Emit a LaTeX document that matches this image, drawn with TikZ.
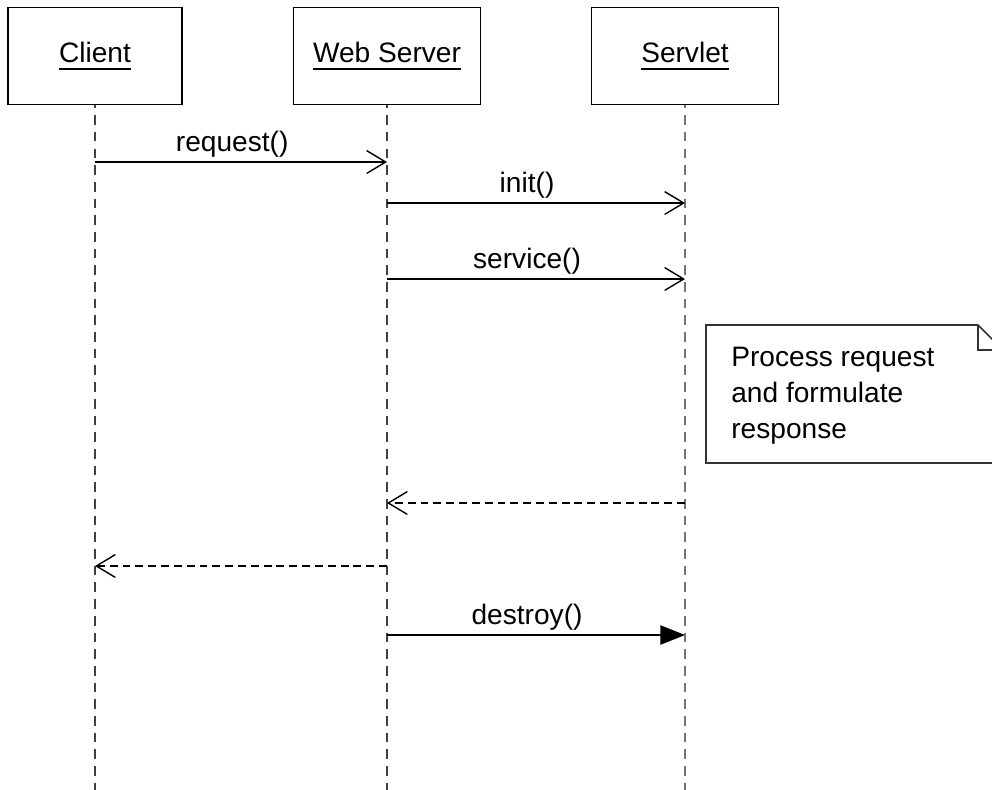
\documentclass[tikz,border=0pt]{standalone}
\usepackage{fontspec}
\setmainfont{Liberation Sans}
\usetikzlibrary{arrows.meta,positioning}
\newcommand{\objname}[1]{\setbox0=\hbox{#1}\leavevmode\rlap{\copy0}\raisebox{-4.5pt}{\rule{\wd0}{1pt}}}

\begin{document}
\begin{tikzpicture}[x=0.02cm, y=-0.02cm,
    font=\fontsize{16}{20.4}\selectfont,
    object/.style={rectangle, draw, line width=1.1pt, minimum height=1.94cm,
                   minimum width=3.74cm, inner sep=0pt},
    lifeline/.style={line width=1pt, black!75, dash pattern=on 5.5pt off 4pt, dash phase=4pt},
    call/.style={-{Straight Barb[length=10.8pt, width=13pt]}, line width=0.8pt},
    reply/.style={call, dash pattern=on 4.5pt off 2.8pt},
    destroycall/.style={-{Triangle[length=14pt, width=11pt]}, line width=0.8pt},
    notebox/.style={line width=1pt, black!80},
    msglabel/.style={above, pos=0.47, inner sep=2.3pt}
]
    \useasboundingbox (0,0) rectangle (992,789);
    \clip (0,0) rectangle (992,789);

    % Objects
    \node[object, minimum width=3.48cm] (client) at (95,56) {\objname{Client}};
    \node[object] (server) at (387,56) {\objname{Web Server}};
    \node[object] (servlet) at (685,56) {\objname{Servlet}};

    % Lifelines
    \coordinate (bottom) at (0,805);
    \draw[lifeline] (client.south) -- (client |- bottom);
    \draw[lifeline] (server.south) -- (server |- bottom);
    \draw[lifeline, black!55, line width=0.8pt] (servlet.south) -- (servlet |- bottom);

    % Message rows
    \coordinate (m1) at (0,162);
    \coordinate (m2) at (0,203);
    \coordinate (m3) at (0,279);
    \coordinate (m4) at (0,503);
    \coordinate (m5) at (0,566);
    \coordinate (m6) at (0,635);

    % Messages
    \draw[call] (client |- m1) -- node[msglabel] {request()} (server |- m1);
    \draw[call] (server |- m2) -- node[msglabel] {init()} (servlet |- m2);
    \draw[call] (server |- m3) -- node[msglabel] {service()} (servlet |- m3);
    \draw[reply] (servlet |- m4) -- (server |- m4);
    \draw[reply] (server |- m5) -- (client |- m5);
    \draw[destroycall] (server |- m6) -- node[msglabel] {destroy()} (servlet |- m6);

    % Note with folded corner
    \draw[notebox] (706,325) -- (978,325) -- (1003,350) -- (1003,463) -- (706,463) -- cycle;
    \draw[notebox] (978,325) |- (1003,350);
    \node[anchor=north west, align=left, inner sep=0pt] (notetext) at (731,347)
          {Process request\\and formulate\\response};
\end{tikzpicture}
\end{document}
